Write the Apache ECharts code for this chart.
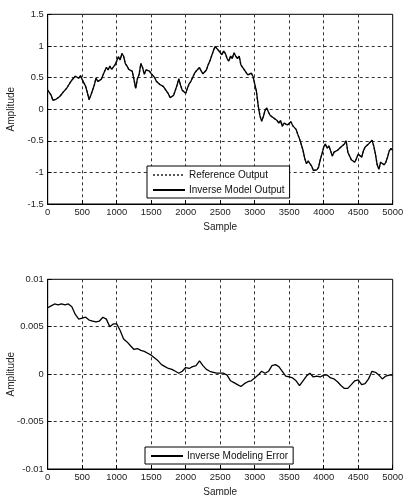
<!DOCTYPE html>
<html>
<head>
<meta charset="utf-8">
<style>
  html, body { margin: 0; padding: 0; background: #fff; }
  #chart { width: 403px; height: 495px; }
</style>
<script src="https://cdn.jsdelivr.net/npm/echarts@6/dist/echarts.min.js"></script>
</head>
<body>
<div id="chart"></div>
<script>
// Sample index step between stored values
const outputStep = 25;
const errorStep = 50;

// Reference output of the plant (sampled every 25 samples)
const referenceOutput = [
  0.30, 0.26, 0.22, 0.14, 0.12, 0.16, 0.14, 0.20, 0.22, 0.27,
  0.30, 0.33, 0.36, 0.42, 0.46, 0.45, 0.52, 0.53, 0.49, 0.53,
  0.47, 0.44, 0.36, 0.26, 0.15, 0.22, 0.30, 0.38, 0.49, 0.44,
  0.41, 0.47, 0.46, 0.60, 0.66, 0.62, 0.68, 0.63, 0.62, 0.70,
  0.76, 0.83, 0.78, 0.88, 0.84, 0.72, 0.68, 0.63, 0.62, 0.60,
  0.47, 0.33, 0.48, 0.55, 0.72, 0.66, 0.55, 0.62, 0.65, 0.60,
  0.56, 0.54, 0.50, 0.44, 0.41, 0.39, 0.36, 0.36, 0.32, 0.29,
  0.24, 0.18, 0.20, 0.22, 0.30, 0.38, 0.48, 0.38, 0.30, 0.27,
  0.25, 0.33, 0.40, 0.44, 0.50, 0.56, 0.60, 0.58, 0.66, 0.60,
  0.56, 0.58, 0.62, 0.70, 0.76, 0.84, 0.92, 0.99, 0.96, 0.93,
  0.90, 0.86, 0.92, 0.88, 0.80, 0.76, 0.84, 0.80, 0.89, 0.84,
  0.80, 0.84, 0.70, 0.66, 0.62, 0.58, 0.54, 0.56, 0.57, 0.52,
  0.40, 0.28, 0.06, -0.10, -0.19, -0.12, -0.02, 0.02, -0.05, -0.10,
  -0.08, -0.14, -0.12, -0.18, -0.22, -0.18, -0.27, -0.22, -0.19, -0.25,
  -0.27, -0.20, -0.26, -0.28, -0.32, -0.40, -0.47, -0.56, -0.65, -0.78,
  -0.86, -0.82, -0.80, -0.90, -0.97, -1.00, -0.96, -0.92, -0.80, -0.71,
  -0.60, -0.55, -0.62, -0.58, -0.66, -0.74, -0.68, -0.70, -0.65, -0.66,
  -0.60, -0.62, -0.55, -0.50, -0.68, -0.74, -0.80, -0.82, -0.84, -0.78,
  -0.71, -0.74, -0.76, -0.66, -0.60, -0.58, -0.55, -0.54, -0.49, -0.58,
  -0.71, -0.88, -0.95, -0.84, -0.81, -0.88, -0.84, -0.76, -0.66, -0.62,
  -0.65
];

// Inverse model output; at this scale it coincides with the reference
const inverseModelOutput = referenceOutput.slice();

// Inverse modeling error (sampled every 50 samples)
const modelingError = [
  0.0070, 0.0072, 0.0074, 0.0073, 0.0074, 0.0073, 0.0074, 0.0071, 0.0063, 0.0058,
  0.0059, 0.0060, 0.0057, 0.0056, 0.0055, 0.0056, 0.0060, 0.0058, 0.0050, 0.0053,
  0.0053, 0.0046, 0.0037, 0.0034, 0.0030, 0.0026, 0.0027, 0.0025, 0.0024, 0.0022,
  0.0020, 0.0017, 0.0014, 0.0010, 0.0008, 0.0006, 0.0005, 0.0003, 0.0001, 0.0003,
  0.0007, 0.0006, 0.0008, 0.0009, 0.0014, 0.0009, 0.0005, 0.0003, 0.0002, 0.0001,
  0.0001, 0.0001, -0.0001, -0.0007, -0.0009, -0.0011, -0.0013, -0.0010, -0.0008, -0.0007,
  -0.0004, -0.0001, 0.0003, 0.0001, 0.0003, 0.0009, 0.0010, 0.0008, 0.0003, -0.0002,
  -0.0003, -0.0004, -0.0007, -0.0012, -0.0007, -0.0002, 0.0001, -0.0003, -0.0002, -0.0003,
  -0.0001, -0.0001, -0.0004, -0.0005, -0.0008, -0.0012, -0.0015, -0.0015, -0.0011, -0.0007,
  -0.0006, -0.0011, -0.0010, -0.0005, 0.0003, 0.0002, -0.0001, -0.0005, -0.0002, -0.0001,
  -0.0001
];

// Tick settings
const sampleTicks = { min: 0, max: 5000, interval: 500 };
const outputTicks = { min: -1.5, max: 1.5, interval: 0.5 };
const errorTicks = { min: -0.01, max: 0.01, interval: 0.005 };

const toPairs = (values, step) => values.map((v, i) => [i * step, v]);

const FONT = 'Liberation Sans, Arial, sans-serif';
const labelStyle = { color: '#222', fontSize: 9.4, fontFamily: FONT };
const nameStyle = { color: '#222', fontSize: 10, fontFamily: FONT };
const gridLine = { show: true, lineStyle: { color: '#333', type: [3, 3], width: 1 } };

function xAxisFor(gridIndex) {
  return {
    type: 'value', gridIndex,
    min: sampleTicks.min, max: sampleTicks.max, interval: sampleTicks.interval,
    name: 'Sample', nameLocation: 'middle', nameGap: 18, nameMoveOverlap: false,
    nameTextStyle: nameStyle,
    axisLine: { show: true, onZero: false, lineStyle: { color: '#000', width: 1 } },
    axisTick: { show: true, inside: true, length: 4, lineStyle: { color: '#000' } },
    axisLabel: Object.assign({ margin: 4, formatter: v => String(v) }, labelStyle),
    splitLine: gridLine
  };
}

function yAxisFor(gridIndex, ticks, fmt) {
  return {
    type: 'value', gridIndex,
    min: ticks.min, max: ticks.max, interval: ticks.interval,
    name: 'Amplitude', nameLocation: 'middle', nameGap: 31, nameMoveOverlap: false,
    nameTextStyle: nameStyle,
    axisLine: { show: true, onZero: false, lineStyle: { color: '#000', width: 1 } },
    axisTick: { show: true, inside: true, length: 4, lineStyle: { color: '#000' } },
    axisLabel: Object.assign({ margin: 4, formatter: fmt }, labelStyle),
    splitLine: gridLine
  };
}

const legendBase = {
  orient: 'vertical',
  backgroundColor: '#fff',
  borderColor: '#000',
  borderWidth: 1,
  borderRadius: 0,
  padding: [4, 5, 3, 5],
  itemWidth: 32,
  itemHeight: 10,
  itemGap: 5,
  itemStyle: { opacity: 0 },
  textStyle: { color: '#111', fontSize: 10, fontFamily: FONT, padding: [0, 0, 0, -1] }
};

const gridBase = {
  left: 47.7, right: 10.3, show: true, borderColor: '#000', borderWidth: 1,
  containLabel: false, outerBoundsMode: 'none'
};

const chart = echarts.init(document.getElementById('chart'), null, { renderer: 'canvas' });
chart.setOption({
  animation: false,
  backgroundColor: '#fff',
  grid: [
    Object.assign({}, gridBase, { top: 14.3, bottom: 291 }),
    Object.assign({}, gridBase, { top: 279.3, bottom: 26 })
  ],
  xAxis: [xAxisFor(0), xAxisFor(1)],
  yAxis: [
    yAxisFor(0, outputTicks, v => String(+v.toFixed(2))),
    yAxisFor(1, errorTicks, v => String(+v.toFixed(3)))
  ],
  legend: [
    Object.assign({}, legendBase, { left: 147, top: 166, data: ['Reference Output', 'Inverse Model Output'] }),
    Object.assign({}, legendBase, { left: 145, top: 447, data: ['Inverse Modeling Error'] })
  ],
  series: [
    {
      name: 'Reference Output', type: 'line', xAxisIndex: 0, yAxisIndex: 0,
      data: toPairs(referenceOutput, outputStep),
      symbol: 'none', z: 2,
      lineStyle: { color: '#555', width: 1.4, type: [2, 2] },
      itemStyle: { color: '#000' }
    },
    {
      name: 'Inverse Model Output', type: 'line', xAxisIndex: 0, yAxisIndex: 0,
      data: toPairs(inverseModelOutput, outputStep),
      symbol: 'none', z: 3,
      lineStyle: { color: '#000', width: 1.3 },
      itemStyle: { color: '#000' }
    },
    {
      name: 'Inverse Modeling Error', type: 'line', xAxisIndex: 1, yAxisIndex: 1,
      data: toPairs(modelingError, errorStep),
      symbol: 'none', z: 3,
      lineStyle: { color: '#000', width: 1.3 },
      itemStyle: { color: '#000' }
    }
  ]
});
</script>
</body>
</html>
